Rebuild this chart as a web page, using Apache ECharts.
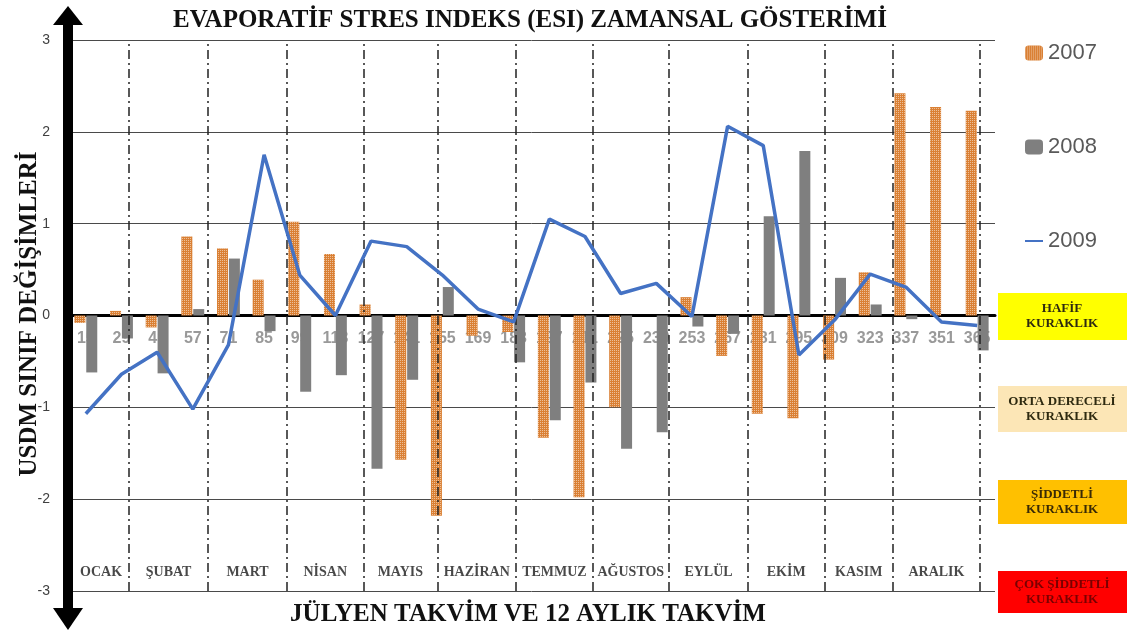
<!DOCTYPE html>
<html>
<head>
<meta charset="utf-8">
<script src="https://cdn.jsdelivr.net/npm/echarts@6/dist/echarts.min.js"></script>
<style>
  html, body { margin: 0; padding: 0; background: #fff; }
  #chart { width: 1129px; height: 635px; }
</style>
</head>
<body>
<div id="chart"></div>
<script>
  // jülyen günleri (kategori)
  var days = ['15', '29', '43', '57', '71', '85', '99', '113', '127', '141', '155', '169', '183',
    '197', '211', '225', '239', '253', '267', '281', '295', '309', '323', '337', '351', '365']
  var esi2007 = [-0.08, 0.05, -0.13, 0.86, 0.73, 0.39, 1.02, 0.67, 0.12, -1.57, -2.18, -0.22, -0.18,
    -1.33, -1.98, -1.0, 0, 0.2, -0.44, -1.07, -1.12, -0.48, 0.47, 2.42, 2.27, 2.23]
  var esi2008 = [-0.62, -0.25, -0.63, 0.07, 0.62, -0.17, -0.83, -0.65, -1.67, -0.70, 0.31, 0, -0.51,
    -1.14, -0.73, -1.45, -1.27, -0.12, -0.2, 1.08, 1.79, 0.41, 0.12, -0.04, 0, -0.38]
  var esi2009 = [-1.07, -0.64, -0.40, -1.02, -0.32, 1.75, 0.44, 0.0, 0.81, 0.75, 0.44, 0.07, -0.07,
    1.05, 0.86, 0.24, 0.35, -0.01, 2.06, 1.85, -0.43, -0.05, 0.45, 0.31, -0.07, -0.11]

  // 12 aylık takvim: ay sınırları (gün) ve adları
  var months = ['OCAK', 'ŞUBAT', 'MART', 'NİSAN', 'MAYIS', 'HAZİRAN', 'TEMMUZ', 'AĞUSTOS', 'EYLÜL', 'EKİM', 'KASIM', 'ARALIK']
  var monthEnds = [32, 63, 94, 124, 153, 184, 214, 244, 275, 305, 332, 366]
  var yTicks = [-3, -2, -1, 0, 1, 2, 3]

  var dayMin = 8, dayMax = 372
  var monthLabels = months.map(function (m, i) {
    var start = i === 0 ? dayMin + 2 : monthEnds[i - 1]
    return { value: [(start + monthEnds[i]) / 2, -2.80], name: m }
  })

  var serif = '"Liberation Serif", "DejaVu Serif", serif'

  // kuraklık kutuları (sağ taraf)
  var droughtBoxes = [
    { text: 'HAFİF\nKURAKLIK', y: 293, h: 47, fill: '#FFFF00', color: '#2e2a10' },
    { text: 'ORTA DERECELİ\nKURAKLIK', y: 386, h: 46, fill: '#FCE6B6', color: '#2e2a10' },
    { text: 'ŞİDDETLİ\nKURAKLIK', y: 480, h: 44, fill: '#FFC000', color: '#3a2a05' },
    { text: 'ÇOK ŞİDDETLİ\nKURAKLIK', y: 571, h: 42, fill: '#FF0000', color: '#7a0000' }
  ]
  var boxGraphics = []
  droughtBoxes.forEach(function (b) {
    boxGraphics.push({
      type: 'rect', shape: { x: 998, y: b.y, width: 129, height: b.h },
      style: { fill: b.fill }, z: 10
    })
    boxGraphics.push({
      type: 'text', x: 1062, y: b.y + b.h / 2, z: 11,
      style: {
        text: b.text, fill: b.color, font: 'bold 13px ' + serif,
        align: 'center', verticalAlign: 'middle', lineHeight: 15
      }
    })
  })

  var option = {
    backgroundColor: '#ffffff',
    animation: false,
    legend: {
      orient: 'vertical',
      left: 1019, top: 37,
      itemWidth: 18, itemHeight: 15,
      itemGap: 72,
      textStyle: { color: '#595959', fontSize: 22, fontFamily: '"Liberation Sans", Arial, sans-serif' },
      data: ['2007', '2008', { name: '2009', itemStyle: { color: 'rgba(0,0,0,0)' } }]
    },
    grid: { left: 68, right: 134, top: 40, bottom: 44 },
    xAxis: [
      {
        type: 'category',
        data: days,
        axisLine: { onZero: true, lineStyle: { color: '#000', width: 3 } },
        axisTick: { show: false },
        axisLabel: { show: false },
        z: 1
      },
      {
        // ay çizgileri için gün ekseni (gizli)
        type: 'value',
        min: dayMin, max: dayMax,
        position: 'top',
        axisLine: { show: false, onZero: false },
        axisTick: { show: false },
        axisLabel: { show: false },
        splitLine: { show: false }
      }
    ],
    yAxis: {
      type: 'value',
      min: -3, max: 3, interval: 1,
      axisLine: { show: false },
      axisTick: { show: false },
      axisLabel: {
        color: '#404040', fontSize: 14, margin: 18,
        fontFamily: '"Liberation Sans", Arial, sans-serif',
        formatter: function (v) { return yTicks.indexOf(v) >= 0 ? String(v) : '' }
      },
      splitLine: { lineStyle: { color: '#4a4a4a', width: 1 } }
    },
    series: [
      {
        // gün etiketleri sıfır çizgisinin hemen altında
        name: 'gunler',
        type: 'scatter',
        data: days.map(function (d) { return [d, 0] }),
        symbolSize: 0,
        silent: true,
        label: {
          show: true,
          position: 'bottom',
          distance: 15,
          formatter: function (p) { return p.value[0] },
          color: '#808080', fontWeight: 'bold', fontSize: 16,
          fontFamily: '"Liberation Sans", Arial, sans-serif'
        },
        z: 1
      },
      {
        name: '2007',
        type: 'bar',
        data: esi2007,
        barWidth: 11,
        barGap: '8%',
        itemStyle: {
          color: '#DA8034',
          decal: {
            symbol: 'rect',
            symbolSize: 1,
            color: 'rgba(255,255,255,0.5)',
            dashArrayX: [[1, 1]],
            dashArrayY: [1, 1],
            rotation: 0
          }
        },
        z: 3
      },
      {
        name: '2008',
        type: 'bar',
        data: esi2008,
        barWidth: 11,
        itemStyle: { color: '#7F7F7F' },
        z: 3
      },
      {
        name: '2009',
        type: 'line',
        data: esi2009,
        symbol: 'none',
        lineStyle: { color: '#4472C4', width: 3.5 },
        itemStyle: { color: '#4472C4' },
        z: 5
      },
      {
        // ay adları ve ay sınır çizgileri
        name: 'aylar',
        type: 'scatter',
        xAxisIndex: 1,
        data: monthLabels,
        symbolSize: 0,
        silent: true,
        label: {
          show: true,
          position: 'inside',
          formatter: '{b}',
          fontFamily: serif, fontWeight: 'bold', fontSize: 14, color: '#1a1a1a'
        },
        markLine: {
          symbol: 'none',
          silent: true,
          label: { show: false },
          lineStyle: { color: '#222', width: 1.5, type: [9, 4, 2, 4] },
          data: monthEnds.map(function (d) { return { xAxis: d } })
        },
        z: 2
      }
    ],
    graphic: [
      // başlık ve eksen adları
      {
        type: 'text', x: 530, y: 21, z: 12,
        style: {
          text: 'EVAPORATİF STRES INDEKS (ESI) ZAMANSAL GÖSTERİMİ',
          font: 'bold 25px ' + serif, fill: '#111', align: 'center', verticalAlign: 'middle'
        }
      },
      {
        type: 'text', x: 528, y: 615, z: 12,
        style: {
          text: 'JÜLYEN TAKVİM VE 12 AYLIK TAKVİM',
          font: 'bold 25px ' + serif, fill: '#111', align: 'center', verticalAlign: 'middle'
        }
      },
      {
        type: 'text', x: 30, y: 314, rotation: Math.PI / 2, z: 12,
        style: {
          text: 'USDM SINIF DEĞİŞİMLERİ',
          font: 'bold 25px ' + serif, fill: '#111', align: 'center', verticalAlign: 'middle'
        }
      },
      // kalın çift yönlü y ekseni oku
      { type: 'rect', shape: { x: 63, y: 20, width: 10, height: 592 }, style: { fill: '#000' }, z: 20 },
      { type: 'polygon', shape: { points: [[53, 25], [68, 6], [83, 25]] }, style: { fill: '#000' }, z: 20 },
      { type: 'polygon', shape: { points: [[53, 608], [68, 630], [83, 608]] }, style: { fill: '#000' }, z: 20 }
    ].concat(boxGraphics)
  }

  var myChart = echarts.init(document.getElementById('chart'))
  myChart.setOption(option)
</script>
</body>
</html>
